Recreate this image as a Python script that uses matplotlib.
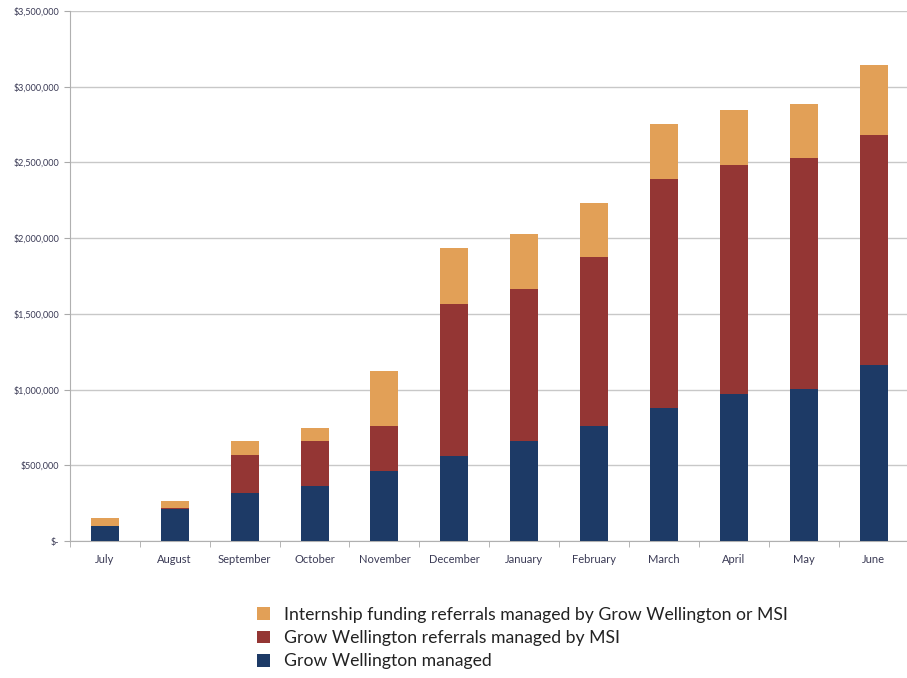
import numpy as np
import matplotlib.pyplot as plt
from matplotlib.ticker import FuncFormatter, FixedLocator

months = ["July", "August", "September", "October", "November", "December",
          "January", "February", "March", "April", "May", "June"]

# values in dollars
gw_managed = [99000, 211000, 317000, 363000, 462000, 561000,
              660000, 759000, 878000, 971000, 1004000, 1162000]
gw_referrals_msi = [0, 5000, 251000, 297000, 297000, 1004000,
                    1004000, 1116000, 1513000, 1512000, 1525000, 1519000]
internship = [53000, 48000, 92000, 86000, 364000, 370000,
              363000, 357000, 363000, 363000, 357000, 462000]

labels = ["Grow Wellington managed",
          "Grow Wellington referrals managed by MSI",
          "Internship funding referrals managed by Grow Wellington or MSI"]
colors = ["#1d3a66", "#943634", "#e2a057"]

plt.rcParams['font.family'] = ['Lato', 'DejaVu Sans']

fig = plt.figure(figsize=(9.07, 6.78), dpi=100)
ax = fig.add_axes([0.077, 0.202, 0.925, 0.782])

x = np.arange(len(months))
w = 0.4
b1 = ax.bar(x, gw_managed, w, color=colors[0], label=labels[0], zorder=3)
b2 = ax.bar(x, gw_referrals_msi, w, bottom=gw_managed, color=colors[1],
            label=labels[1], zorder=3)
bottom2 = np.array(gw_managed) + np.array(gw_referrals_msi)
b3 = ax.bar(x, internship, w, bottom=bottom2, color=colors[2],
            label=labels[2], zorder=3)

ax.set_ylim(0, 3500000)
ax.set_xlim(-0.5, len(months) - 0.5)
ax.set_yticks(np.arange(0, 3500001, 500000))


def money(v, pos):
    if v == 0:
        return "$-"
    return f"${v:,.0f}"


ax.yaxis.set_major_formatter(FuncFormatter(money))
ax.set_xticks(x)
ax.set_xticklabels(months)
ax.xaxis.set_minor_locator(FixedLocator(np.arange(-0.5, len(months), 1)))
ax.tick_params(axis="x", which="major", length=0, labelsize=8,
               colors="#3a3a55", pad=9)
ax.tick_params(axis="x", which="minor", length=4, color="#aaaaaa")
ax.tick_params(axis="y", length=4, color="#aaaaaa", labelsize=6.5,
               colors="#3a3a55")

ax.grid(axis="y", color="#c8c8c8", linewidth=1, zorder=0)
for s in ["top", "right"]:
    ax.spines[s].set_visible(False)
ax.spines["left"].set_color("#b0b0b0")
ax.spines["bottom"].set_color("#b0b0b0")

handles = [b3, b2, b1]
fig.legend(handles, [h.get_label() for h in handles],
           loc="upper left", bbox_to_anchor=(0.266, 0.128),
           frameon=False, fontsize=12.7, handlelength=0.75, handleheight=0.75,
           handletextpad=0.8, labelspacing=0.4, labelcolor="#222222")

fig.savefig("out.png", dpi=100)
